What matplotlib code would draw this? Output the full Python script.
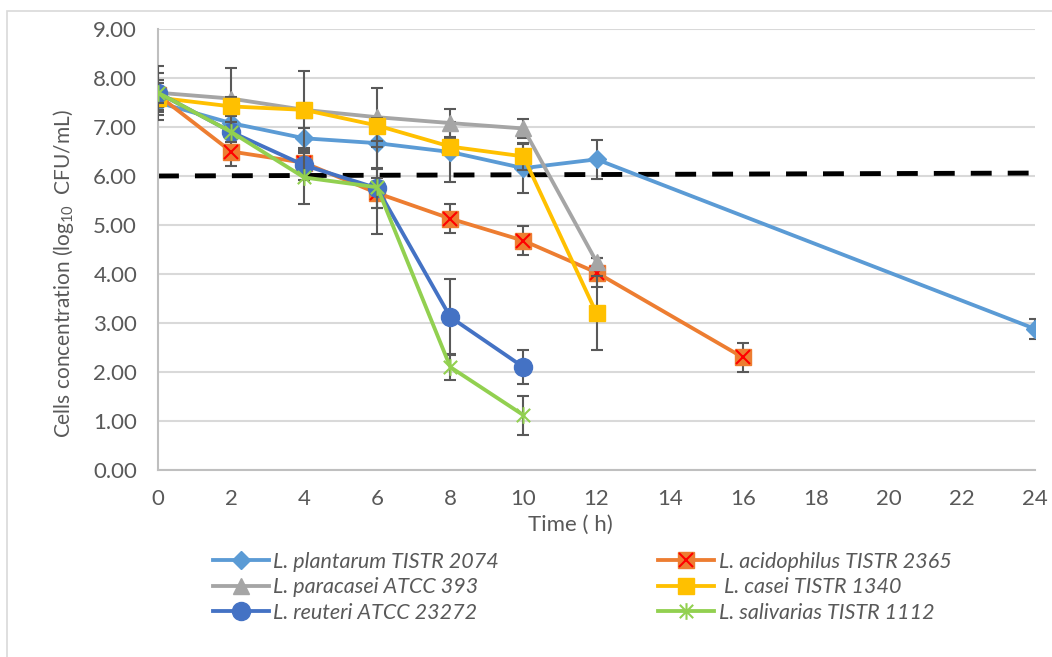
import matplotlib
matplotlib.use("Agg")
import matplotlib.pyplot as plt
from matplotlib.lines import Line2D
from matplotlib.patches import Rectangle
from matplotlib.path import Path

plt.rcParams['font.family'] = ['Lato', 'DejaVu Sans']
plt.rcParams['mathtext.fontset'] = 'custom'
plt.rcParams['mathtext.rm'] = 'Lato'
plt.rcParams['mathtext.it'] = 'Lato:italic'

# sampling times (h)
time_short = [0, 2, 4, 6, 8, 10]
time_12 = [0, 2, 4, 6, 8, 10, 12]
time_16 = [0, 2, 4, 6, 8, 10, 12, 16]
time_24 = [0, 2, 4, 6, 8, 10, 12, 24]

# log10 CFU/mL and error bars
plantarum = [7.50, 7.08, 6.77, 6.67, 6.49, 6.16, 6.34, 2.88]
plantarum_err = [0.25, 0.30, 0.20, 0.50, 0.62, 0.50, 0.40, 0.20]
acidophilus = [7.65, 6.50, 6.27, 5.65, 5.13, 4.68, 4.03, 2.30]
acidophilus_err = [0.30, 0.30, 0.20, 0.30, 0.30, 0.30, 0.30, 0.30]
paracasei = [7.70, 7.58, 7.35, 7.20, 7.08, 6.97, 4.25]
paracasei_err = [0.55, 0.63, 0.80, 0.60, 0.28, 0.20, 0.08]
casei = [7.60, 7.42, 7.35, 7.03, 6.60, 6.40, 3.20]
casei_err = [0.20, 0.20, 0.15, 0.15, 0.15, 0.27, 0.75]
reuteri = [7.70, 6.90, 6.22, 5.75, 3.12, 2.10]
reuteri_err = [0.40, 0.20, 0.30, 0.40, 0.77, 0.34]
salivarias = [7.70, 6.90, 5.97, 5.77, 2.10, 1.12]
salivarias_err = [0.20, 0.20, 0.55, 0.95, 0.27, 0.40]

threshold_x = [0, 24]
threshold_y = [6.00, 6.06]

labels = ["L. plantarum TISTR 2074", "L. acidophilus TISTR 2365",
          "L. paracasei ATCC 393", " L. casei TISTR 1340",
          "L. reuteri ATCC 23272", "L. salivarias TISTR 1112"]

text_grey = "#595959"
err_grey = "#595959"

# asterisk marker like excel's star
star = Path([(-1, -1), (1, 1), (-1, 1), (1, -1), (0, -1.25), (0, 1.25)],
            [Path.MOVETO, Path.LINETO, Path.MOVETO, Path.LINETO, Path.MOVETO, Path.LINETO])

fig = plt.figure(figsize=(10.52, 6.57), dpi=100)
ax = fig.add_axes([158 / 1052, 1 - 470 / 657, (1035 - 158) / 1052, (470 - 29) / 657])

# outer chart frame
fig.patches.append(Rectangle((7 / 1052, -0.1), 1.2, 1 - 11 / 657 + 0.1, transform=fig.transFigure,
                             fill=False, edgecolor="#D9D9D9", linewidth=1.2))

ax.plot(threshold_x, threshold_y, color="black", linewidth=3.5, dashes=(4.3, 3.3), zorder=2)

series = [
    (time_24, plantarum, plantarum_err, "#5B9BD5", dict(marker="D", markersize=9)),
    (time_16, acidophilus, acidophilus_err, "#ED7D31", dict(marker="s", markersize=12)),
    (time_12, paracasei, paracasei_err, "#A5A5A5", dict(marker="^", markersize=12)),
    (time_12, casei, casei_err, "#FFC000", dict(marker="s", markersize=11)),
    (time_short, reuteri, reuteri_err, "#4472C4", dict(marker="o", markersize=13)),
    (time_short, salivarias, salivarias_err, "#92D050", dict(marker=star, markersize=12)),
]

handles = []
z = 3
for xs, ys, err, col, mk in series:
    ax.errorbar(xs, ys, yerr=err, fmt="none", ecolor=err_grey, elinewidth=1.5, capsize=4,
                capthick=1.5, zorder=z)
    ax.plot(xs, ys, color=col, linewidth=2.75, markerfacecolor=col, markeredgecolor=col,
            markeredgewidth=1.5 if mk["marker"] is star else 1, zorder=z + 0.5, **mk)
    h = Line2D([], [], color=col, linewidth=2.75, markerfacecolor=col, markeredgecolor=col,
               markeredgewidth=1.5 if mk["marker"] is star else 1, **mk)
    if col == "#ED7D31":
        ax.plot(xs, ys, linestyle="none", marker="x", markersize=10, markeredgecolor="red",
                markeredgewidth=1.5, zorder=z + 0.6)
        hx = Line2D([], [], linestyle="none", marker="x", markersize=10, markeredgecolor="red",
                    markeredgewidth=1.5)
        h = (h, hx)
    handles.append(h)
    z += 1

ax.set_xlim(0, 24)
ax.set_ylim(0, 9)
ax.set_xticks(range(0, 25, 2))
ax.set_yticks(range(0, 10))
ax.set_yticklabels([f"{v:.2f}" for v in range(0, 10)])
ax.tick_params(length=0, labelsize=16, labelcolor=text_grey)
ax.tick_params(axis="y", pad=15)
ax.tick_params(axis="x", pad=14)
ax.grid(axis="y", color="#D9D9D9", linewidth=1.5)
ax.set_axisbelow(True)
for s in ["top", "right"]:
    ax.spines[s].set_visible(False)
for s in ["left", "bottom"]:
    ax.spines[s].set_color("#BFBFBF")
    ax.spines[s].set_linewidth(1.5)

fig.text(570 / 1052, 1 - 525 / 657, "Time ( h)", ha="center", va="center", fontsize=16, color=text_grey)
fig.text(64 / 1052, 1 - 274 / 657, "Cells concentration (log$_{10}$  CFU/mL)", rotation=90,
         ha="center", va="center", fontsize=15, color=text_grey)

order = [0, 2, 4, 1, 3, 5]
leg = fig.legend([handles[i] for i in order], [labels[i] for i in order], ncol=2,
                 loc="upper left", bbox_to_anchor=(213 / 1052, 1 - 552 / 657), frameon=False,
                 fontsize=15.5, handlelength=2.6, handletextpad=0.2, columnspacing=7.4,
                 labelspacing=0.25, borderpad=0, borderaxespad=0)
for t in leg.get_texts():
    t.set_fontstyle("italic")
    t.set_color(text_grey)

fig.savefig("out.png", dpi=100)
